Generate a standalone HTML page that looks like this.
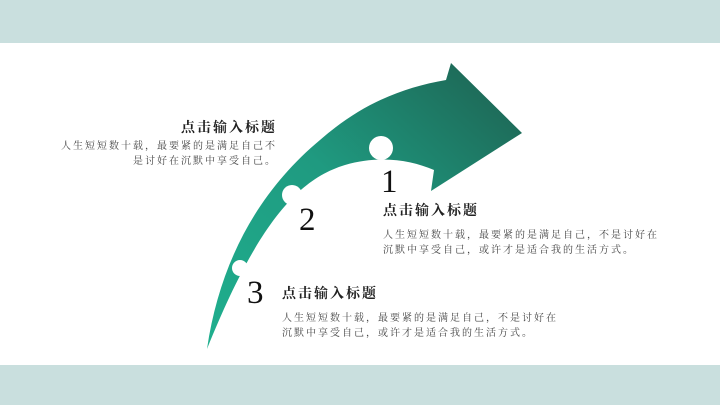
<!DOCTYPE html>
<html><head><meta charset="utf-8"><style>
body{margin:0;width:720px;height:405px;position:relative;overflow:hidden;background:#fff;font-family:"Liberation Serif","Noto Serif CJK SC",serif;color:#333}
.band{position:absolute;left:0;width:720px;background:#c9dfde}
.t{position:absolute;font-size:14px;font-weight:bold;color:#222;white-space:nowrap;letter-spacing:2px}
.p{position:absolute;font-size:10px;line-height:15px;color:#444;letter-spacing:2px;white-space:nowrap}
</style></head><body>
<div class="band" style="top:0;height:43px"></div>
<div class="band" style="top:365px;height:40px"></div>
<svg width="720" height="405" style="position:absolute;left:0;top:0">
<defs><linearGradient id="g" x1="0" y1="1" x2="1" y2="0">
<stop offset="0" stop-color="#1faf8e"/><stop offset="0.5" stop-color="#1f9a80"/><stop offset="1" stop-color="#1d5f4f"/></linearGradient></defs>
<path d="M207,349 C220,260 260,190 320,140 C360,105 400,88 446,80 L451,63 L522,133 L431,191 L434,170 C410,160 380,155 345,165 C295,180 255,230 207,349 Z" fill="url(#g)"/>
<circle cx="381" cy="148" r="12" fill="#fff"/>
<circle cx="292" cy="195" r="10" fill="#fff"/>
<circle cx="240" cy="268" r="8" fill="#fff"/>
<text x="381" y="192" font-size="33" font-family="Liberation Serif" fill="#111">1</text>
<text x="299" y="230" font-size="33" font-family="Liberation Serif" fill="#111">2</text>
<text x="247" y="303" font-size="33" font-family="Liberation Serif" fill="#111">3</text>
</svg>
<div class="t" style="right:443px;top:117px">点击输入标题</div>
<div class="p" style="right:443px;top:139px;text-align:right">人生短短数十载，最要紧的是满足自己不<br>是讨好在沉默中享受自己。</div>
<div class="t" style="left:383px;top:200px">点击输入标题</div>
<div class="p" style="left:383px;top:228px">人生短短数十载，最要紧的是满足自己，不是讨好在<br>沉默中享受自己，或许才是适合我的生活方式。</div>
<div class="t" style="left:282px;top:283px">点击输入标题</div>
<div class="p" style="left:282px;top:311px">人生短短数十载，最要紧的是满足自己，不是讨好在<br>沉默中享受自己，或许才是适合我的生活方式。</div>
</body></html>
